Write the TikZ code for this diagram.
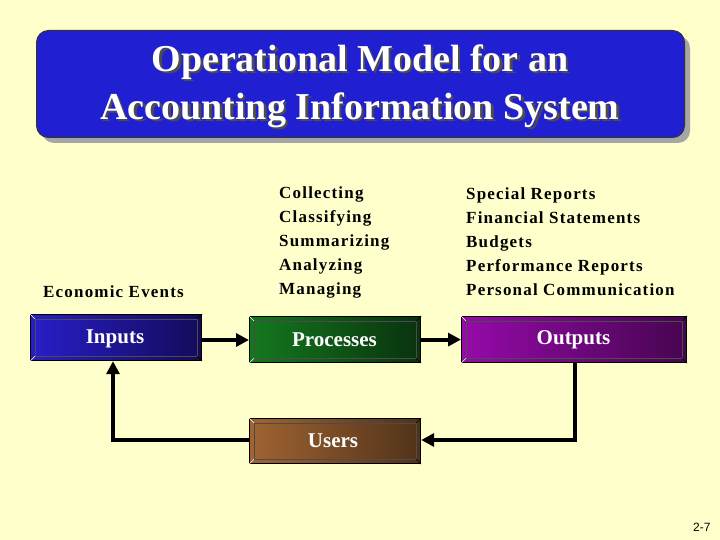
\documentclass[tikz,border=0pt]{standalone}
\usepackage{fontspec}
\setmainfont{Liberation Serif}
\newfontfamily\sansf{Liberation Sans}
\newfontfamily\spaced[LetterSpace=7]{Liberation Serif}
\usetikzlibrary{arrows.meta}
\definecolor{bg}{HTML}{FFFFCC}
\tikzset{
  bev/.style={draw=black,line width=1.2pt,minimum height=46pt,inner sep=0pt},
  btxt/.style={text=white,font=\bfseries\fontsize{21}{22}\selectfont},
  lab/.style={align=left,anchor=south west,font=\spaced\bfseries\fontsize{17}{24}\selectfont,inner sep=0pt},
  conn/.style={line width=4pt,-{Triangle[length=13pt,width=13pt]}}
}
\begin{document}
\begin{tikzpicture}[x=1pt,y=-1pt]
\fill[bg] (0,0) rectangle (720,540);
\useasboundingbox (0,0) rectangle (720,540);
% title
\fill[gray!70,rounded corners=12pt] (42,36) rectangle (690,143);
\node[draw=black!80,line width=1pt,fill={rgb,255:red,32;green,32;blue,210},rounded corners=12pt,minimum width=648pt,minimum height=107pt,anchor=north west] (title) at (36,30) {};
\node[text=black!70,align=center,font=\bfseries\fontsize{38}{48}\selectfont] at (362.5,88.5) {Operational Model for an\\Accounting Information System};
\node[text=white,align=center,font=\bfseries\fontsize{38}{48}\selectfont] (tt) at (360,86) {Operational Model for an\\Accounting Information System};
% boxes
\node[bev,left color={rgb,255:red,40;green,30;blue,200},right color={rgb,255:red,20;green,10;blue,90},minimum width=171pt,anchor=north west] (in) at (30,314) {};
\node[bev,left color={rgb,255:red,20;green,120;blue,30},right color={rgb,255:red,10;green,50;blue,15},minimum width=171pt,anchor=north west] (pr) at (249,316) {};
\node[bev,left color={rgb,255:red,150;green,10;blue,170},right color={rgb,255:red,70;green,5;blue,80},minimum width=225pt,anchor=north west] (out) at (461,316) {};
\node[bev,left color={rgb,255:red,160;green,100;blue,50},right color={rgb,255:red,80;green,50;blue,25},minimum width=171pt,minimum height=45pt,anchor=north west] (us) at (249,418) {};
\foreach \n in {in,pr,out,us}{
  \draw[black!70,line width=0.6pt] ([shift={(5,5)}]\n.north west) rectangle ([shift={(-5,-5)}]\n.south east);
  \draw[white!60,line width=0.5pt] (\n.north west) -- ([shift={(5,5)}]\n.north west);
  \draw[white!60,line width=0.5pt] (\n.south west) -- ([shift={(5,-5)}]\n.south west);
  \draw[black,line width=0.5pt] (\n.south east) -- ([shift={(-5,-5)}]\n.south east);
  \draw[black,line width=0.5pt] (\n.north east) -- ([shift={(-5,5)}]\n.north east);
}
\node[btxt] at (115,339) {Inputs};
\node[btxt] at (334.5,340) {Processes};
\node[btxt] at (573.5,340) {Outputs};
\node[btxt] at (333,441) {Users};
% labels
\node[lab] (ee) at (43,298) {Economic Events};
\node[lab] (pl) at (279,298) {Collecting\\Classifying\\Summarizing\\Analyzing\\Managing};
\node[lab] (ol) at (466,296) {Special Reports\\Financial Statements\\Budgets\\Performance Reports\\Personal Communication};
% connectors
\draw[conn] (in.east |- 0,340) -- (pr.west |- 0,340);
\draw[conn] (pr.east) -- (out.west);
\coordinate (c1) at (575,440);
\coordinate (c2) at (113,440);
\draw[conn] (out.south -| c1) -- (c1) -- (us.east |- c1);
\draw[conn] (us.west |- c2) -- (c2) -- (in.south -| c2);
\node[font=\sansf\fontsize{12}{14}\selectfont,anchor=east] (pg) at (714,527) {2-7};
\end{tikzpicture}
\end{document}
